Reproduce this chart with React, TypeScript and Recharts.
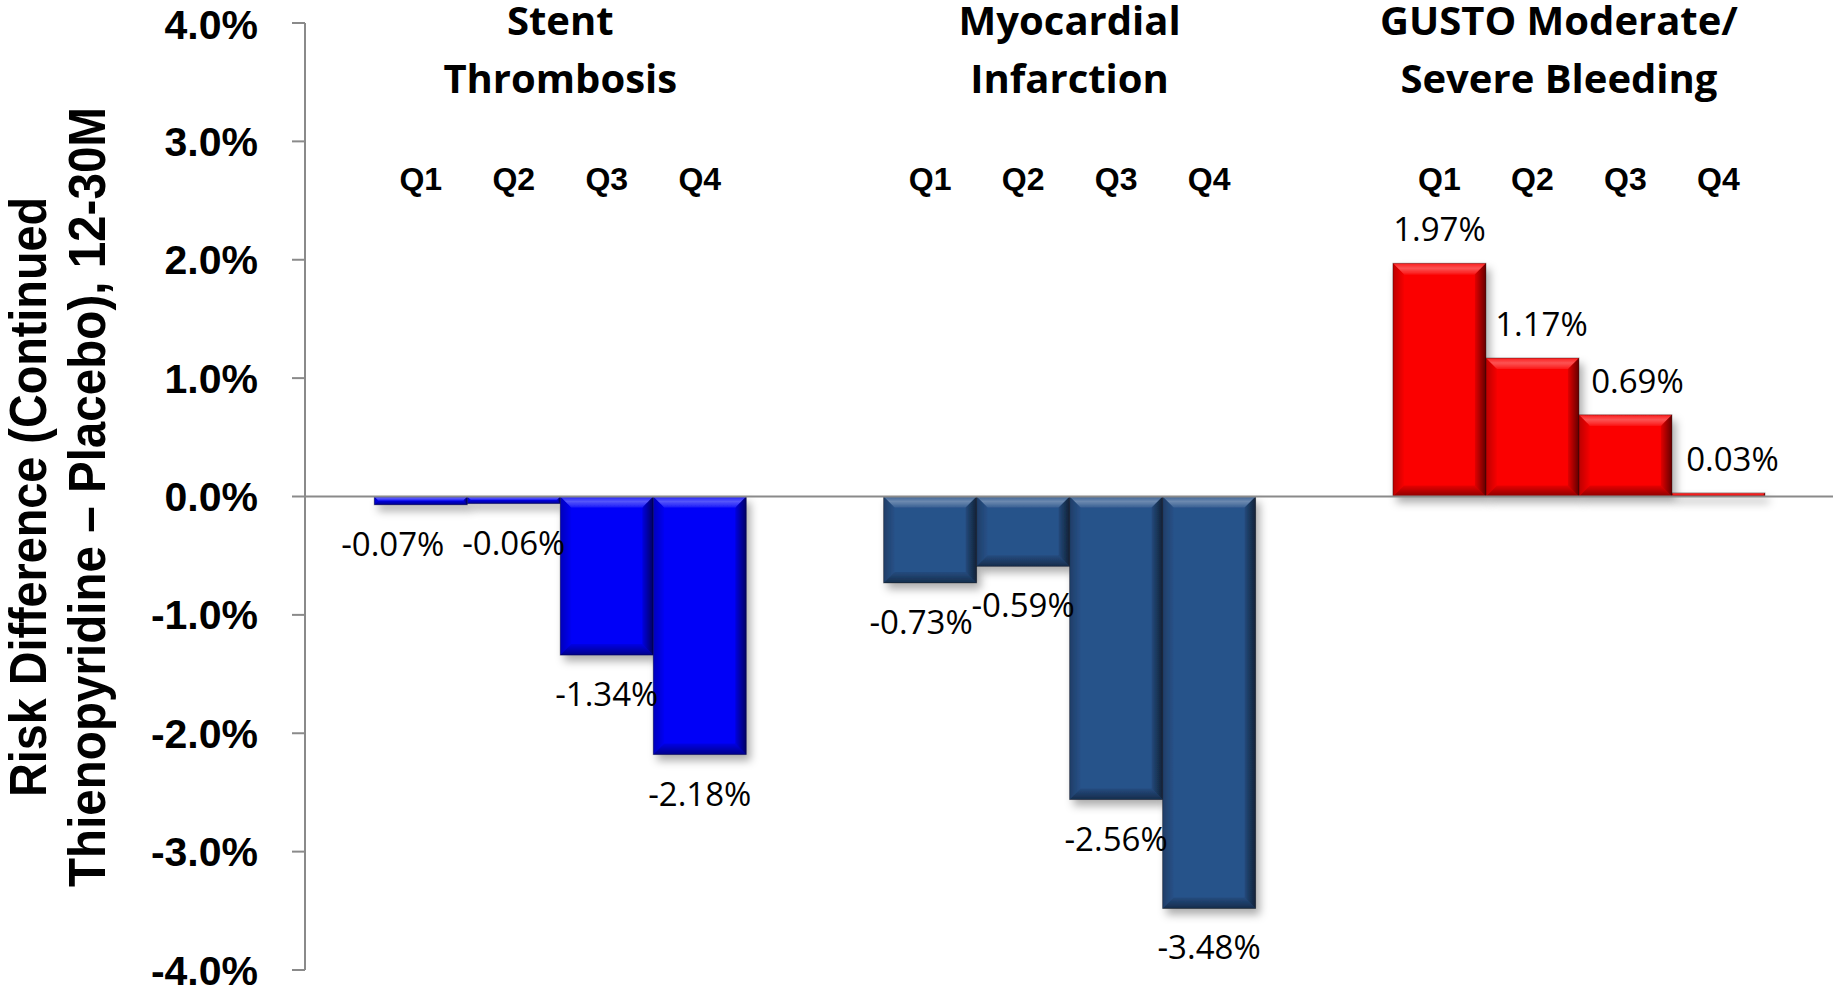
import React from 'react';
import {
  BarChart,
  Bar,
  XAxis,
  YAxis,
  ReferenceLine,
  LabelList,
  Customized,
} from 'recharts';

// ---- Data ----
const categories = ['Stent Thrombosis', 'Myocardial Infarction', 'GUSTO Moderate/Severe Bleeding'];
const categoryTitleLines = [
  ['Stent', 'Thrombosis'],
  ['Myocardial', 'Infarction'],
  ['GUSTO Moderate/', 'Severe Bleeding'],
];
const quartiles = ['Q1', 'Q2', 'Q3', 'Q4'];
const stentThrombosis = [-0.07, -0.06, -1.34, -2.18];
const myocardialInfarction = [-0.73, -0.59, -2.56, -3.48];
const gustoBleeding = [1.97, 1.17, 0.69, 0.03];
const yTicks = [-4, -3, -2, -1, 0, 1, 2, 3, 4];
const yTitleLines = ['Risk Difference (Continued', 'Thienopyridine \u2013 Placebo), 12-30M'];

const seriesByCategory = [stentThrombosis, myocardialInfarction, gustoBleeding];
const data = categories.map((name, i) => {
  const row: Record<string, number | string> = { name };
  quartiles.forEach((q, j) => {
    row[q] = seriesByCategory[i][j];
  });
  return row;
});

// ---- Styling ----
const W = 1835;
const H = 995;
const MARGIN = { top: 22, right: 2, bottom: 25, left: 0 };
const Y_AXIS_WIDTH = 305;
const PLOT_MID = 497;
const categoryColors = ['#0505F8', '#28528A', '#FB0303'];
const axisGray = '#8A8A8A';
const BOLD_FONT = "'Liberation Sans', Arial, sans-serif";
const LABEL_FONT = "'Open Sans', 'Noto Sans', sans-serif";

// small horizontal nudges so that neighbouring value labels do not collide
const labelNudge: number[][] = [
  [-28, 0, 0, 0],
  [-9, 0, 0, 0],
  [0, 9, 12, 14],
];
const titleNudge = [0, 0, -20];

const BevelBar = (props: any) => {
  const { x, y, width, height, index } = props;
  const top = Math.min(y, y + height);
  const h = Math.abs(height);
  const w = width;
  if (!(h > 0) || !(w > 0)) return null;
  const fill = categoryColors[index] ?? props.fill;
  const b = Math.min(11, h / 2, w / 2);
  const x2 = x + w;
  const y2 = top + h;
  return (
    <g filter="url(#barShadow)">
      <rect x={x} y={top} width={w} height={h} fill={fill} />
      <polygon
        points={`${x},${top} ${x2},${top} ${x2 - b},${top + b} ${x + b},${top + b}`}
        fill="url(#bevelTop)"
      />
      <polygon
        points={`${x},${y2} ${x2},${y2} ${x2 - b},${y2 - b} ${x + b},${y2 - b}`}
        fill="url(#bevelBottom)"
      />
      <polygon
        points={`${x},${top} ${x + b},${top + b} ${x + b},${y2 - b} ${x},${y2}`}
        fill="url(#bevelLeft)"
      />
      <polygon
        points={`${x2},${top} ${x2 - b},${top + b} ${x2 - b},${y2 - b} ${x2},${y2}`}
        fill="url(#bevelRight)"
      />
      <rect x={x} y={top} width={w} height={h} fill="none" stroke="#000" strokeOpacity={0.35} strokeWidth={1} />
    </g>
  );
};

const readBox = (p: any) => {
  const vb = p.viewBox || {};
  return {
    x: Number(p.x ?? vb.x),
    y: Number(p.y ?? vb.y),
    width: Number(p.width ?? vb.width),
    height: Number(p.height ?? vb.height),
  };
};

const valueLabel = (qi: number) => (p: any) => {
  const { x, y, width, height } = readBox(p);
  const value = Number(p.value);
  const idx = p.index ?? 0;
  const top = Math.min(y, y + height);
  const bottom = Math.max(y, y + height);
  const cx = x + width / 2 + (labelNudge[idx]?.[qi] ?? 0);
  const ty = value >= 0 ? top - 22 : bottom + 51;
  return (
    <text x={cx} y={ty} textAnchor="middle" fontFamily={LABEL_FONT} fontSize={33} fill="#000">
      {`${value.toFixed(2)}%`}
    </text>
  );
};

const quartileLabel = (qi: number) => (p: any) => {
  const { x, width } = readBox(p);
  return (
    <text
      x={x + width / 2}
      y={190}
      textAnchor="middle"
      fontFamily={BOLD_FONT}
      fontWeight="bold"
      fontSize={32}
      fill="#000"
    >
      {quartiles[qi]}
    </text>
  );
};

// Category titles: drawn from the Q2 bar, whose right edge is the category centre
const categoryTitle = (p: any) => {
  const { x, width } = readBox(p);
  const i = p.index ?? 0;
  const lines = categoryTitleLines[i];
  const cx = x + width + (titleNudge[i] ?? 0);
  return (
    <g fontFamily={LABEL_FONT} fontWeight="bold" fontSize={40} fill="#000">
      <text x={cx} y={35} textAnchor="middle">
        {lines[0]}
      </text>
      <text x={cx} y={93} textAnchor="middle">
        {lines[1]}
      </text>
    </g>
  );
};

const YAxisTitle = () => (
  <g fontFamily={BOLD_FONT} fontWeight="bold" fontSize={52} fill="#000">
    <text
      transform={`translate(46, ${PLOT_MID}) rotate(-90)`}
      textAnchor="middle"
      textLength={600}
      lengthAdjust="spacingAndGlyphs"
    >
      {yTitleLines[0]}
    </text>
    <text
      transform={`translate(105, ${PLOT_MID}) rotate(-90)`}
      textAnchor="middle"
      textLength={780}
      lengthAdjust="spacingAndGlyphs"
    >
      {yTitleLines[1]}
    </text>
  </g>
);

export default function App() {
  return (
    <div style={{ position: 'absolute', left: 0, top: 0, width: W, height: H, background: '#fff' }}>
      <BarChart
        width={W}
        height={H}
        data={data}
        margin={MARGIN}
        barCategoryGap="13.6%"
        barGap={0}
      >
        <defs>
          <filter id="barShadow" filterUnits="userSpaceOnUse" x={0} y={0} width={W} height={H}>
            <feDropShadow dx={4} dy={6} stdDeviation={4} floodColor="#000" floodOpacity={0.32} />
          </filter>
          <linearGradient id="bevelTop" x1="0" y1="0" x2="0" y2="1">
            <stop offset="0%" stopColor="#fff" stopOpacity={0.1} />
            <stop offset="45%" stopColor="#fff" stopOpacity={0.32} />
            <stop offset="100%" stopColor="#fff" stopOpacity={0.08} />
          </linearGradient>
          <linearGradient id="bevelBottom" x1="0" y1="0" x2="0" y2="1">
            <stop offset="0%" stopColor="#000" stopOpacity={0.08} />
            <stop offset="100%" stopColor="#000" stopOpacity={0.45} />
          </linearGradient>
          <linearGradient id="bevelLeft" x1="0" y1="0" x2="1" y2="0">
            <stop offset="0%" stopColor="#000" stopOpacity={0.25} />
            <stop offset="100%" stopColor="#000" stopOpacity={0.02} />
          </linearGradient>
          <linearGradient id="bevelRight" x1="0" y1="0" x2="1" y2="0">
            <stop offset="0%" stopColor="#000" stopOpacity={0.1} />
            <stop offset="100%" stopColor="#000" stopOpacity={0.6} />
          </linearGradient>
        </defs>
        <XAxis dataKey="name" orientation="top" height={1} axisLine={false} tickLine={false} tick={false} />
        <YAxis
          type="number"
          domain={[-4, 4]}
          ticks={yTicks}
          width={Y_AXIS_WIDTH}
          allowDataOverflow
          axisLine={{ stroke: axisGray, strokeWidth: 2 }}
          tickLine={{ stroke: axisGray, strokeWidth: 2 }}
          tickSize={13}
          tickMargin={34}
          tickFormatter={(v: number) => `${v.toFixed(1)}%`}
          tick={{ fontFamily: BOLD_FONT, fontWeight: 'bold', fontSize: 41, fill: '#000' }}
        />
        <ReferenceLine y={0} stroke={axisGray} strokeWidth={2} />
        {quartiles.map((q, qi) => (
          <Bar key={q} dataKey={q} isAnimationActive={false} shape={<BevelBar />}>
            <LabelList dataKey={q} content={valueLabel(qi)} />
            <LabelList dataKey={q} content={quartileLabel(qi)} />
            {q === 'Q2' ? <LabelList dataKey="name" content={categoryTitle} /> : null}
          </Bar>
        ))}
        <Customized component={YAxisTitle} />
      </BarChart>
    </div>
  );
}
